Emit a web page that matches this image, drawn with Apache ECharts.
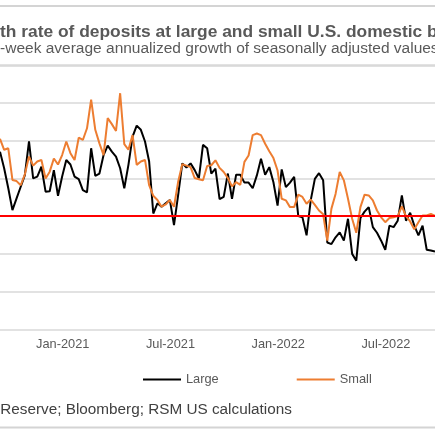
<!DOCTYPE html>
<html><head><meta charset="utf-8">
<script src="https://cdn.jsdelivr.net/npm/echarts@6/dist/echarts.min.js"></script>
<style>html,body{margin:0;padding:0;background:#fff}#c{width:435px;height:435px}</style>
</head><body><div id="c"></div>
<script>
// Weekly (Wednesday) observations, first visible week
const startDate = '2020-09-16';
// 13-week average annualized growth, %
const large = [17.1,12.7,7.4,1.6,4.7,7.8,10.9,19.8,10.0,10.5,13.1,6.5,6.6,12.2,5.4,10.5,14.9,13.7,10.5,9.8,
  6.9,6.3,18.0,10.7,11.3,16.2,18.7,17.1,15.8,12.7,7.4,13.6,21.1,24.0,22.9,19.8,14.5,0.7,3.4,2.5,
  3.4,4.3,-2.4,5.6,14.0,12.9,14.0,12.2,10.0,18.9,18.0,11.3,12.6,4.5,5.1,11.3,4.6,11.0,11.0,8.9,
  8.9,7.4,10.8,15.2,11.0,13.0,9.0,2.8,12.4,7.7,8.9,10.4,0.0,-0.3,-5.1,4.2,9.9,11.4,9.5,-7.0,
  -7.4,-5.6,-4.3,-6.5,-0.7,-10.0,-11.8,-0.5,1.2,2.4,-2.9,-4.4,-6.5,-8.9,-2.5,-2.9,-1.2,5.5,-1.2,0.9,
  -2.5,-5.1,-2.5,-8.9,-9.1,-9.4];
const small = [20.5,17.6,18.0,9.6,9.3,8.2,11.1,15.8,13.4,14.5,14.9,10.0,11.8,15.3,13.7,16.2,19.8,16.7,14.9,20.8,
  20.2,23.3,30.9,22.9,19.3,16.2,26.0,24.4,22.6,32.6,19.1,17.6,21.5,13.6,14.5,14.9,8.2,5.4,4.3,2.5,
  3.1,4.3,2.5,9.1,13.8,13.4,13.0,10.1,9.8,9.5,13.3,13.5,14.8,12.8,11.7,10.1,7.9,9.0,8.3,14.4,
  16.1,21.5,21.9,21.5,19.2,17.2,15.4,12.1,4.6,4.2,2.4,2.4,5.7,5.1,3.3,4.4,3.0,1.5,0.5,-6.5,
  2.0,5.9,11.7,9.5,4.6,-0.7,-4.4,2.4,5.7,5.5,4.2,1.5,-0.3,-1.6,-0.5,-0.3,0.0,2.6,0.0,-1.4,
  -3.5,-1.6,0.2,0.2,0.6,0.1];
const tickDates = ['2021-01-06','2021-07-07','2022-01-05','2022-07-06'];
const tickLabels = ['Jan-2021','Jul-2021','Jan-2022','Jul-2022'];
const seriesNames = ['Large','Small'];
const titleText = 'Growth rate of deposits at large and small U.S. domestic banks';
const subtitleText = '13-week average annualized growth of seasonally adjusted values';
const sourceText = 'Source: Federal Reserve; Bloomberg; RSM US calculations';

const weeks = [];
const t0 = Date.parse(startDate + 'T00:00:00Z');
for (let i = 0; i < large.length; i++) {
  weeks.push(new Date(t0 + i * 7 * 864e5).toISOString().slice(0, 10));
}

const FONT = '"Liberation Sans", Arial, sans-serif';
const chart = echarts.init(document.getElementById('c'), null, {renderer: 'canvas'});
chart.setOption({
  animation: false,
  backgroundColor: '#fff',
  grid: {left: 0, right: 0, top: 65.3, bottom: 105.7, containLabel: false},
  xAxis: {
    type: 'category', data: weeks, boundaryGap: false,
    axisLine: {show: false}, axisTick: {show: false}, splitLine: {show: false},
    axisLabel: {
      interval: (i, v) => tickDates.includes(v),
      formatter: v => tickLabels[tickDates.indexOf(v)] || '',
      color: '#595959', fontSize: 12.8, fontFamily: FONT, margin: 9, padding: [0, 7, 0, 0]
    }
  },
  yAxis: {
    type: 'value', min: -30, max: 40, interval: 10,
    axisLabel: {show: false}, axisLine: {show: false}, axisTick: {show: false},
    splitLine: {show: true, lineStyle: {color: '#d9d9d9', width: 1.5}}
  },
  legend: {
    data: seriesNames, left: 138, top: 368, icon: 'rect', itemWidth: 38, itemHeight: 2, itemGap: 78,
    textStyle: {color: '#595959', fontSize: 12.8, fontFamily: FONT}
  },
  series: [
    {name: 'zero', type: 'line', data: [], z: 1, silent: true,
      markLine: {symbol: ['none', 'none'], silent: true, label: {show: false}, animation: false,
        lineStyle: {color: '#ff0000', width: 2, type: 'solid'}, data: [{yAxis: 0}]}},
    {name: seriesNames[0], type: 'line', data: large, symbol: 'none', z: 2,
      lineStyle: {color: '#000000', width: 2}, itemStyle: {color: '#000000'}},
    {name: seriesNames[1], type: 'line', data: small, symbol: 'none', z: 3,
      lineStyle: {color: '#ed7d31', width: 2}, itemStyle: {color: '#ed7d31'}}
  ],
  graphic: [
    {type: 'rect', shape: {x: 0, y: 5, width: 435, height: 2}, style: {fill: '#d4d4d4'}, z: 10},
    {type: 'rect', shape: {x: 0, y: 64.3, width: 435, height: 2}, style: {fill: '#d9d9d9'}, z: 10},
    {type: 'rect', shape: {x: 0, y: 426.5, width: 435, height: 2}, style: {fill: '#d4d4d4'}, z: 10},
    {type: 'text', x: -44.5, y: 32.5, style: {text: titleText, fill: '#595959', fontSize: 17.4, fontWeight: 'bold', fontFamily: FONT, verticalAlign: 'middle', align: 'left'}, z: 10},
    {type: 'text', x: -17.2, y: 48.5, style: {text: subtitleText, fill: '#595959', fontSize: 15.5, fontFamily: FONT, verticalAlign: 'middle', align: 'left'}, z: 10},
    {type: 'text', x: -112.8, y: 410, style: {text: sourceText, fill: '#404040', fontSize: 15.3, fontFamily: FONT, verticalAlign: 'middle', align: 'left'}, z: 10}
  ]
});
</script>
</body></html>
